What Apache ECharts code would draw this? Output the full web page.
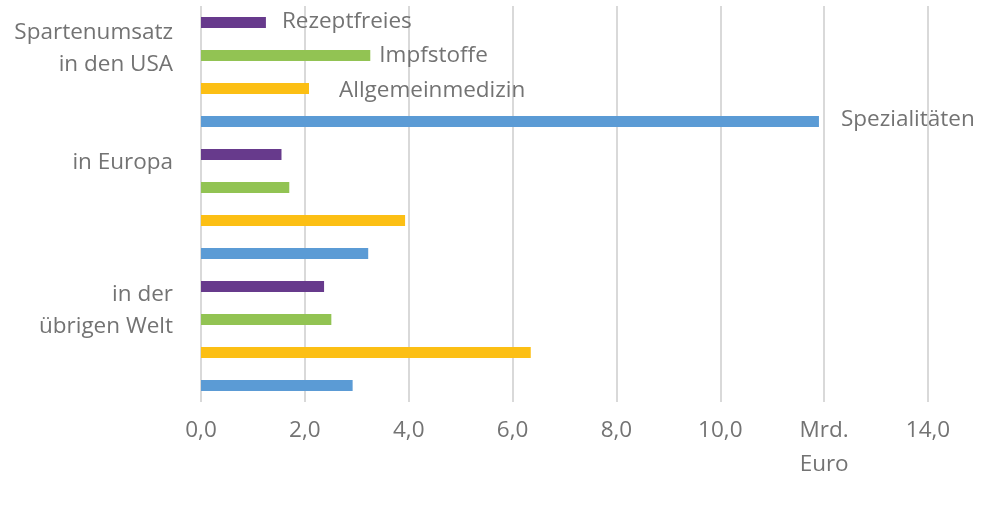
<!DOCTYPE html>
<html>
<head>
<meta charset="utf-8">
<style>
  html, body { margin: 0; padding: 0; background: #fff; }
  #chart { width: 1000px; height: 506px; }
</style>
<script src="https://cdn.jsdelivr.net/npm/echarts@6/dist/echarts.min.js"></script>
</head>
<body>
<div id="chart"></div>
<script>
// Regionen (Kategorien)
var regions = ['Spartenumsatz\nin den USA', 'in Europa', 'in der\nübrigen Welt'];
// Sparten (Serien) und Umsätze in Mrd. Euro
var sparten = ['Rezeptfreies', 'Impfstoffe', 'Allgemeinmedizin', 'Spezialitäten'];
var rezeptfreies = [1.25, 1.55, 2.37];
var impfstoffe = [3.26, 1.70, 2.51];
var allgemeinmedizin = [2.08, 3.93, 6.35];
var spezialitaeten = [11.9, 3.22, 2.92];
// Achse
var xTicks = [0, 2, 4, 6, 8, 10, 12, 14];
var unitTick = 12;

var textColor = '#737373';
var fontFamily = '"Open Sans", "Noto Sans", sans-serif';
var fontSize = 22.5;

// Farben, Abstand und Versatz der Serienbeschriftung
var seriesStyle = [
    {color: '#673a8c', distance: 16, offset: [0, -1]},
    {color: '#92c353', distance: 9, offset: [0, 0]},
    {color: '#fcbf14', distance: 30, offset: [0, 2]},
    {color: '#5b9bd5', distance: 22, offset: [0, -2]}
];
var values = [rezeptfreies, impfstoffe, allgemeinmedizin, spezialitaeten];
// leere Zeile unter der Regionsbeschriftung schiebt sie nach oben
var labelRich = {
    g0: {lineHeight: 46},
    g1: {lineHeight: 82},
    g2: {lineHeight: 50}
};

var chart = echarts.init(document.getElementById('chart'));

var series = sparten.map(function (name, s) {
    var st = seriesStyle[s];
    return {
        name: name,
        type: 'bar',
        barWidth: 11,
        barGap: '200%',
        itemStyle: {color: st.color},
        data: values[s].map(function (v, i) {
            if (i !== 0) return v;
            return {
                value: v,
                label: {
                    show: true,
                    position: 'right',
                    distance: st.distance,
                    offset: st.offset,
                    formatter: name,
                    color: textColor,
                    fontSize: fontSize,
                    fontFamily: fontFamily
                }
            };
        })
    };
});

chart.setOption({
    animation: false,
    grid: {left: 201, right: 72, top: 6, bottom: 104},
    xAxis: {
        type: 'value',
        min: 0,
        max: 14,
        interval: 2,
        axisLine: {show: false},
        axisTick: {show: false},
        splitLine: {lineStyle: {color: '#d9d9d9', width: 2}},
        axisLabel: {
            color: textColor,
            fontSize: fontSize,
            fontFamily: fontFamily,
            lineHeight: 34,
            margin: 12,
            formatter: function (v) {
                if (v === unitTick) return 'Mrd.\nEuro';
                return xTicks.indexOf(v) >= 0 ? v.toFixed(1).replace('.', ',') : '';
            }
        }
    },
    yAxis: {
        type: 'category',
        inverse: true,
        data: regions,
        axisLine: {show: false},
        axisTick: {show: false},
        splitLine: {show: false},
        axisLabel: {
            color: textColor,
            fontSize: fontSize,
            fontFamily: fontFamily,
            lineHeight: 32,
            margin: 28,
            rich: labelRich,
            formatter: function (v, i) {
                return v + '\n{g' + i + '| }';
            }
        }
    },
    series: series
});
</script>
</body>
</html>
